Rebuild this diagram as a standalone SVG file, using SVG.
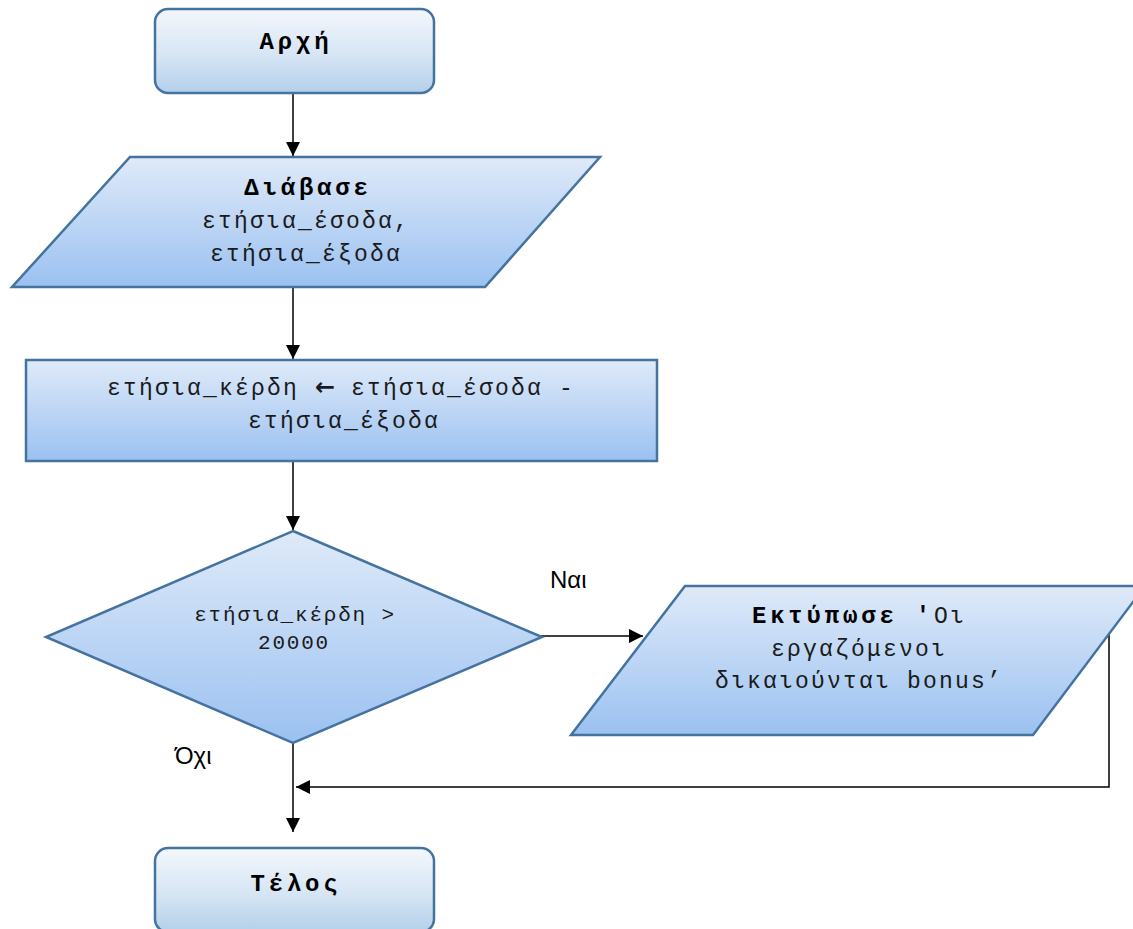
<svg xmlns="http://www.w3.org/2000/svg" width="1133" height="929" viewBox="0 0 1133 929">
  <defs>
    <linearGradient id="gTerm" x1="0" y1="0" x2="0" y2="1">
      <stop offset="0" stop-color="#f3f7fc"/>
      <stop offset="0.55" stop-color="#d6e5f4"/>
      <stop offset="1" stop-color="#b3d0ea"/>
    </linearGradient>
    <linearGradient id="gStep" x1="0" y1="0" x2="0" y2="1">
      <stop offset="0" stop-color="#dfeaf9"/>
      <stop offset="1" stop-color="#9bc1f1"/>
    </linearGradient>
    <marker id="arrow" markerUnits="userSpaceOnUse" markerWidth="16" markerHeight="16" viewBox="0 0 16 16" refX="15" refY="8" orient="auto">
      <path d="M1,1 L15,8 L1,15 Z" fill="#000"/>
    </marker>
    <style>
      .term { fill: url(#gTerm); stroke: #45739f; stroke-width: 2.5; }
      .step { fill: url(#gStep); stroke: #45739f; stroke-width: 2.5; stroke-linejoin: miter; }
      .mono { font-family: "Liberation Mono", "DejaVu Sans Mono", monospace; fill: #1a1a1a; }
      .txt { font-size: 23px; letter-spacing: 2.2px; text-anchor: middle; }
      .cond { font-size: 21px; letter-spacing: 1.8px; text-anchor: middle; }
      .title { font-size: 24px; font-weight: bold; letter-spacing: 3.8px; text-anchor: middle; fill: #000; }
      .sym { font-family: "DejaVu Sans", "Liberation Sans", sans-serif; font-weight: bold; font-size: 24px; letter-spacing: 0; }
      .lbl { font-family: "Liberation Sans", "Open Sans", sans-serif; font-size: 24px; fill: #000; }
      .conn { fill: none; stroke: #000; stroke-width: 1.5; }
    </style>
  </defs>

  <rect width="1133" height="929" fill="#fff"/>

  <!-- connectors -->
  <g id="connectors">
    <line class="conn" x1="293" y1="93" x2="293" y2="156" marker-end="url(#arrow)"/>
    <line class="conn" x1="293" y1="288" x2="293" y2="359" marker-end="url(#arrow)"/>
    <line class="conn" x1="293" y1="462" x2="293" y2="530" marker-end="url(#arrow)"/>
    <line class="conn" x1="541" y1="636" x2="643" y2="636" marker-end="url(#arrow)"/>
    <line class="conn" x1="293" y1="743" x2="293" y2="832" marker-end="url(#arrow)"/>
    <polyline class="conn" points="1109,634 1109,787 296,787" marker-end="url(#arrow)"/>
    <text class="lbl" x="550" y="588">Ναι</text>
    <text class="lbl" x="175" y="764">Όχι</text>
  </g>

  <!-- start terminal -->
  <g id="start">
    <rect class="term" x="155" y="9" width="279" height="84" rx="13" ry="13"/>
    <text class="mono title" x="296" y="49">Αρχή</text>
  </g>

  <!-- input: read yearly income and expenses -->
  <g id="read-input">
    <polygon class="step" points="130,157 600,157 485,287 12,287"/>
    <text class="mono title" x="308" y="195">Διάβασε</text>
    <text class="mono txt" x="306" y="228">ετήσια_έσοδα,</text>
    <text class="mono txt" x="306" y="261">ετήσια_έξοδα</text>
  </g>

  <!-- process: compute yearly profit -->
  <g id="compute-profit">
    <rect class="step" x="26" y="360" width="631" height="101"/>
    <text class="mono txt" x="341" y="395">ετήσια_κέρδη <tspan class="sym">←</tspan> ετήσια_έσοδα -</text>
    <text class="mono txt" x="344" y="428">ετήσια_έξοδα</text>
  </g>

  <!-- decision: profit above threshold -->
  <g id="check-profit">
    <polygon class="step" points="293,531 542,637 293,743 46,637"/>
    <text class="mono cond" x="295" y="621">ετήσια_κέρδη &gt;</text>
    <text class="mono cond" x="294" y="649">20000</text>
  </g>

  <!-- output: bonus message -->
  <g id="print-bonus">
    <polygon class="step" points="685,586 1145,586 1033,735 571,735"/>
    <text class="mono txt" x="859" y="623"><tspan class="title" font-size="22px">Εκτύπωσε '</tspan>Οι</text>
    <text class="mono txt" x="859" y="656">εργαζόμενοι</text>
    <text class="mono txt" x="859" y="688">δικαιούνται bonus’</text>
  </g>

  <!-- end terminal -->
  <g id="end">
    <rect class="term" x="155" y="848" width="279" height="84" rx="13" ry="13"/>
    <text class="mono title" x="296" y="891">Τέλος</text>
  </g>
</svg>
